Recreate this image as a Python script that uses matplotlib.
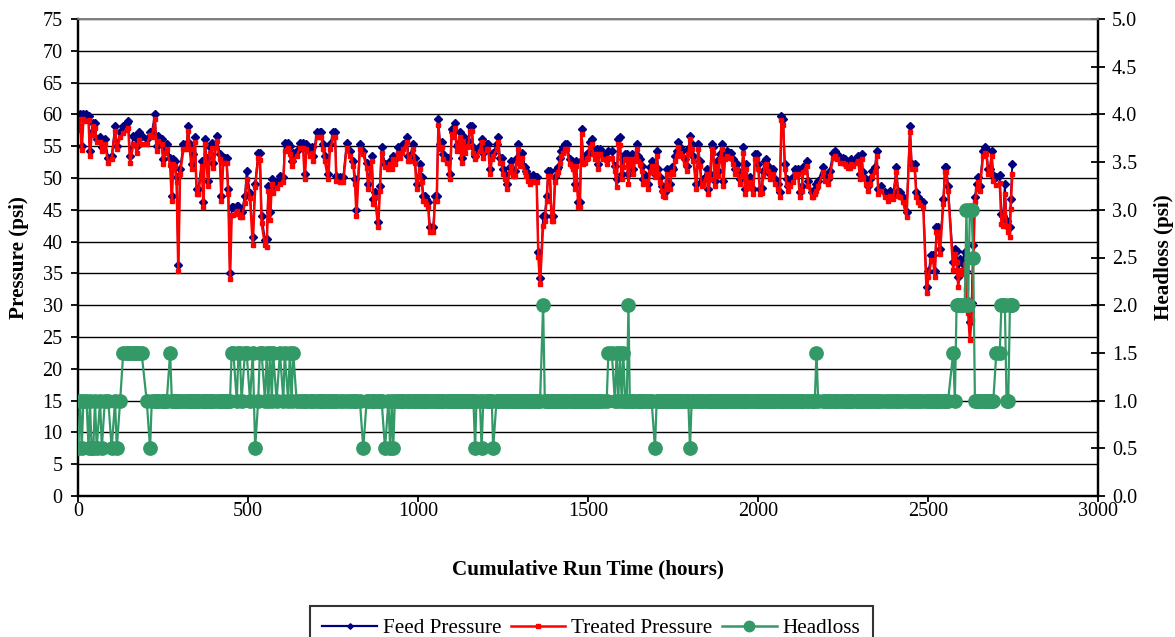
import matplotlib
matplotlib.use("Agg")
import matplotlib.pyplot as plt
from matplotlib.lines import Line2D
from matplotlib.ticker import MultipleLocator, FormatStrFormatter

plt.rcParams['font.family'] = ['Liberation Serif', 'DejaVu Serif']

# Cumulative run time of each reading (hours)
hours = [
    1, 6, 11, 16, 25, 31, 35, 40, 45, 50,
    55, 65, 70, 79, 89, 99, 109, 114, 124, 133,
    143, 148, 153, 163, 168, 173, 178, 187, 202, 212,
    217, 226, 231, 236, 246, 251, 256, 261, 271, 276,
    280, 285, 290, 295, 300, 310, 319, 324, 329, 334,
    339, 344, 349, 354, 364, 369, 373, 378, 383, 388,
    393, 398, 408, 417, 422, 427, 432, 437, 442, 447,
    452, 457, 467, 472, 476, 481, 491, 496, 506, 514,
    521, 530, 535, 540, 550, 555, 560, 565, 570, 574,
    584, 594, 604, 608, 618, 623, 628, 633, 643, 653,
    662, 667, 672, 682, 687, 692, 702, 711, 716, 721,
    726, 736, 741, 751, 756, 760, 770, 780, 790, 800,
    810, 815, 819, 829, 839, 849, 854, 864, 869, 873,
    883, 888, 893, 903, 913, 918, 923, 927, 932, 942,
    947, 952, 957, 967, 972, 976, 986, 991, 996, 1006,
    1011, 1016, 1021, 1025, 1030, 1035, 1045, 1050, 1055, 1060,
    1065, 1070, 1074, 1084, 1089, 1094, 1099, 1104, 1109, 1114,
    1119, 1123, 1128, 1133, 1138, 1143, 1148, 1153, 1158, 1163,
    1168, 1172, 1182, 1187, 1192, 1202, 1207, 1212, 1217, 1221,
    1231, 1236, 1241, 1246, 1251, 1256, 1261, 1270, 1275, 1280,
    1285, 1290, 1295, 1300, 1305, 1315, 1319, 1324, 1329, 1334,
    1339, 1344, 1349, 1354, 1359, 1368, 1373, 1378, 1383, 1388,
    1393, 1398, 1403, 1408, 1413, 1417, 1422, 1427, 1432, 1437,
    1447, 1452, 1457, 1462, 1466, 1471, 1476, 1481, 1486, 1491,
    1496, 1501, 1506, 1511, 1515, 1520, 1525, 1530, 1535, 1545,
    1555, 1560, 1570, 1579, 1584, 1589, 1594, 1599, 1604, 1609,
    1614, 1619, 1623, 1628, 1633, 1643, 1648, 1653, 1658, 1663,
    1668, 1677, 1682, 1687, 1697, 1702, 1707, 1712, 1717, 1721,
    1726, 1731, 1736, 1741, 1746, 1751, 1756, 1761, 1766, 1770,
    1775, 1785, 1790, 1795, 1800, 1805, 1810, 1819, 1824, 1829,
    1834, 1839, 1849, 1854, 1859, 1864, 1868, 1873, 1878, 1883,
    1888, 1893, 1898, 1903, 1908, 1917, 1922, 1927, 1932, 1937,
    1947, 1952, 1957, 1962, 1966, 1971, 1976, 1986, 1991, 1996,
    2001, 2006, 2011, 2015, 2020, 2025, 2030, 2035, 2040, 2045,
    2050, 2060, 2064, 2069, 2074, 2079, 2084, 2089, 2094, 2104,
    2109, 2113, 2118, 2123, 2128, 2133, 2143, 2148, 2158, 2162,
    2167, 2172, 2177, 2192, 2197, 2202, 2207, 2211, 2221, 2226,
    2231, 2241, 2251, 2256, 2260, 2265, 2270, 2275, 2280, 2290,
    2295, 2300, 2305, 2309, 2319, 2324, 2329, 2334, 2344, 2349,
    2354, 2363, 2373, 2383, 2388, 2398, 2407, 2412, 2417, 2427,
    2437, 2447, 2452, 2461, 2466, 2471, 2476, 2486, 2496, 2501,
    2510, 2515, 2520, 2525, 2530, 2535, 2545, 2550, 2554, 2559,
    2574, 2579, 2584, 2589, 2594, 2599, 2608, 2613, 2618, 2623,
    2628, 2633, 2638, 2643, 2647, 2652, 2662, 2667, 2672, 2677,
    2682, 2687, 2692, 2701, 2711, 2716, 2721, 2726, 2731, 2736,
    2741, 2743, 2748,
]

# Feed pressure (psi)
feed_pressure = [
    58.2, 60.0, 55.1, 60.0, 60.0, 59.7, 54.3, 57.2, 58.7, 58.7,
    56.1, 56.4, 54.8, 56.1, 53.2, 53.5, 58.2, 55.1, 57.2, 58.2,
    58.7, 59.0, 53.5, 56.6, 56.4, 55.1, 57.2, 56.6, 56.1, 57.2,
    57.2, 60.0, 55.1, 56.6, 56.1, 53.0, 54.8, 55.3, 53.2, 47.2,
    53.0, 52.7, 50.1, 36.3, 51.4, 55.3, 55.3, 58.2, 55.3, 52.2,
    53.8, 56.4, 48.3, 48.3, 52.7, 46.2, 56.1, 53.2, 49.6, 54.8,
    55.5, 52.4, 56.6, 53.8, 47.2, 53.2, 53.2, 53.2, 48.3, 35.0,
    45.4, 45.4, 45.6, 45.6, 45.1, 44.6, 47.2, 51.1, 47.7, 40.7,
    49.1, 54.0, 54.0, 44.1, 40.2, 40.4, 48.8, 44.6, 49.8, 48.8,
    49.3, 50.3, 50.1, 55.5, 55.5, 55.0, 52.7, 54.0, 54.3, 55.5,
    55.5, 50.6, 55.3, 54.3, 54.8, 53.5, 57.2, 57.2, 57.2, 55.3,
    53.5, 50.6, 55.3, 57.2, 57.2, 50.3, 50.1, 50.1, 55.5, 54.3,
    52.7, 49.8, 44.9, 55.3, 54.3, 52.4, 49.1, 53.5, 46.7, 47.8,
    43.1, 48.8, 54.8, 52.2, 52.2, 52.7, 52.2, 53.5, 53.0, 54.8,
    54.0, 54.8, 55.3, 56.4, 53.5, 53.5, 55.3, 53.2, 49.1, 52.2,
    50.1, 47.2, 47.2, 46.7, 46.2, 42.3, 42.3, 47.2, 47.2, 59.2,
    55.3, 55.6, 53.8, 53.2, 53.2, 50.6, 57.7, 57.2, 58.7, 55.1,
    55.3, 57.2, 53.2, 56.6, 54.8, 55.6, 55.8, 58.2, 58.2, 54.8,
    53.5, 54.3, 55.1, 56.1, 54.0, 55.3, 55.3, 51.4, 53.8, 54.0,
    55.3, 56.4, 53.2, 53.2, 51.4, 50.6, 49.1, 51.7, 52.7, 51.1,
    51.1, 53.2, 55.3, 52.7, 54.0, 51.7, 51.1, 50.4, 49.8, 50.1,
    50.4, 50.1, 50.1, 38.4, 34.2, 44.1, 44.1, 47.2, 51.1, 51.1,
    44.1, 44.1, 50.1, 51.4, 51.7, 53.2, 54.3, 54.8, 55.3, 55.3,
    53.0, 52.7, 52.2, 49.1, 52.7, 46.2, 46.2, 57.7, 53.0, 53.2,
    53.8, 54.0, 55.6, 56.1, 54.5, 53.8, 54.5, 52.2, 54.5, 53.8,
    53.0, 54.3, 54.3, 51.9, 49.8, 56.1, 56.4, 50.6, 53.0, 53.8,
    53.8, 50.6, 53.0, 53.8, 51.4, 55.3, 53.5, 53.0, 51.9, 49.8,
    50.4, 49.1, 51.7, 52.7, 50.6, 54.3, 51.4, 50.1, 48.8, 48.0,
    47.8, 51.4, 49.1, 49.1, 51.7, 51.4, 53.5, 54.3, 55.6, 54.8,
    54.3, 53.0, 51.9, 54.5, 56.6, 55.3, 53.5, 49.1, 55.3, 52.7,
    49.6, 49.8, 51.4, 48.3, 50.6, 55.3, 54.8, 49.6, 52.7, 51.1,
    53.8, 55.3, 49.6, 53.8, 54.3, 54.0, 54.0, 53.0, 51.4, 52.2,
    49.8, 51.1, 54.8, 48.3, 52.2, 49.3, 50.1, 48.3, 53.8, 53.8,
    52.2, 48.3, 48.5, 51.1, 52.7, 53.0, 51.9, 50.6, 51.1, 51.4,
    49.8, 49.1, 47.8, 59.7, 59.2, 52.2, 49.8, 48.8, 49.6, 50.1,
    51.4, 51.1, 51.4, 47.8, 48.8, 51.7, 52.7, 49.6, 47.8, 47.8,
    48.3, 49.1, 49.6, 51.7, 50.4, 50.4, 49.8, 51.1, 54.0, 54.3,
    53.8, 53.2, 53.2, 53.0, 52.7, 52.4, 52.4, 53.0, 52.7, 53.2,
    53.5, 50.6, 53.8, 50.9, 49.8, 48.8, 49.8, 51.1, 51.7, 54.3,
    48.3, 48.8, 47.8, 47.2, 48.0, 47.5, 51.7, 48.0, 47.8, 47.0,
    44.6, 58.2, 52.2, 52.2, 47.8, 47.0, 46.5, 46.2, 32.9, 35.3,
    37.9, 37.9, 35.3, 42.3, 42.3, 38.9, 46.7, 51.7, 51.7, 48.8,
    36.8, 38.9, 38.6, 34.5, 37.3, 36.6, 38.4, 35.3, 30.6, 27.4,
    30.3, 39.4, 47.0, 49.1, 50.1, 48.8, 54.3, 54.8, 54.5, 51.4,
    51.4, 54.3, 50.4, 50.1, 50.4, 44.4, 44.1, 49.1, 43.3, 42.3,
    42.3, 46.7, 52.2,
]

# Treated pressure (psi)
treated_pressure = [
    57.6, 59.3, 54.4, 59.3, 59.0, 59.1, 53.5, 56.7, 58.2, 57.9,
    55.6, 55.6, 54.3, 55.3, 52.4, 53.0, 57.4, 54.6, 56.4, 57.0,
    57.5, 57.8, 52.3, 55.4, 55.2, 53.9, 56.0, 55.4, 55.3, 56.7,
    56.4, 59.2, 54.3, 55.8, 55.3, 52.2, 54.0, 54.5, 52.0, 46.4,
    52.2, 51.9, 49.3, 35.4, 50.6, 54.5, 54.5, 57.4, 54.5, 51.4,
    53.0, 55.6, 47.5, 47.5, 51.9, 45.4, 55.3, 52.4, 48.8, 54.0,
    54.7, 51.6, 55.8, 53.0, 46.4, 52.4, 52.4, 52.4, 47.5, 34.1,
    44.2, 44.2, 44.8, 44.4, 43.9, 43.8, 46.0, 49.9, 46.9, 39.5,
    48.6, 53.2, 52.8, 42.9, 39.4, 39.2, 48.0, 43.4, 49.0, 47.6,
    48.5, 49.1, 49.3, 54.3, 54.7, 53.8, 51.9, 52.8, 53.5, 54.7,
    54.7, 49.8, 54.5, 53.5, 54.0, 52.7, 56.4, 56.4, 56.4, 54.5,
    52.7, 49.8, 54.5, 56.4, 56.4, 49.5, 49.3, 49.3, 54.7, 53.5,
    51.9, 49.0, 44.1, 54.5, 53.8, 51.6, 48.3, 52.7, 45.9, 47.0,
    42.3, 48.0, 54.0, 51.7, 51.4, 52.2, 51.4, 53.0, 52.2, 54.0,
    53.2, 54.0, 54.5, 55.6, 52.7, 52.7, 54.5, 52.4, 48.3, 51.4,
    49.3, 46.4, 46.4, 45.9, 45.4, 41.5, 41.5, 46.4, 46.4, 58.4,
    54.5, 54.8, 53.0, 52.4, 52.4, 49.8, 56.9, 56.4, 57.9, 54.3,
    54.5, 56.4, 52.4, 55.8, 54.0, 54.8, 55.0, 57.4, 57.4, 54.0,
    53.0, 53.5, 54.3, 55.6, 53.2, 54.5, 54.5, 50.6, 53.0, 53.5,
    54.5, 55.6, 52.4, 52.4, 50.6, 49.8, 48.3, 50.9, 51.9, 50.3,
    50.3, 52.4, 54.5, 51.9, 53.2, 50.9, 50.3, 49.6, 49.0, 49.3,
    49.6, 49.3, 49.3, 37.6, 33.4, 42.5, 43.3, 46.4, 50.3, 50.3,
    43.3, 43.3, 49.3, 50.6, 50.9, 52.4, 53.5, 54.0, 54.5, 54.5,
    52.2, 51.9, 51.4, 48.3, 51.9, 45.4, 45.4, 56.9, 52.2, 52.4,
    53.0, 53.2, 54.8, 55.3, 53.7, 53.0, 53.7, 51.4, 53.7, 53.0,
    52.2, 53.1, 53.1, 51.1, 48.6, 55.3, 55.2, 49.8, 51.8, 53.0,
    53.0, 49.0, 52.2, 53.0, 50.6, 54.5, 52.7, 52.2, 51.1, 49.0,
    49.6, 48.3, 50.9, 51.9, 50.1, 53.5, 50.6, 49.3, 48.0, 47.2,
    47.0, 50.6, 48.3, 48.3, 50.9, 50.6, 52.7, 53.5, 54.8, 54.0,
    53.5, 52.2, 51.1, 53.7, 56.1, 54.5, 52.7, 48.3, 54.5, 51.9,
    48.8, 49.0, 50.6, 47.5, 49.8, 54.5, 54.0, 48.8, 51.9, 50.3,
    53.0, 54.5, 48.8, 53.0, 53.5, 53.2, 53.2, 52.2, 50.6, 51.4,
    49.0, 50.3, 54.0, 47.5, 51.4, 48.5, 49.3, 47.5, 53.0, 53.0,
    51.4, 47.5, 47.7, 50.3, 51.9, 52.2, 51.1, 49.8, 50.3, 50.6,
    49.0, 48.3, 47.0, 59.1, 58.4, 51.4, 49.0, 48.0, 48.8, 49.3,
    50.6, 50.3, 50.6, 47.0, 48.0, 50.9, 51.9, 48.8, 47.0, 47.0,
    47.5, 47.9, 48.8, 50.9, 49.6, 49.6, 49.0, 50.3, 53.2, 53.5,
    53.0, 52.4, 52.4, 52.2, 51.9, 51.6, 51.6, 52.2, 51.9, 52.4,
    52.7, 49.8, 53.0, 50.1, 49.0, 48.0, 49.0, 50.3, 50.9, 53.5,
    47.5, 48.0, 47.0, 46.4, 47.2, 46.7, 50.9, 47.2, 47.0, 46.2,
    43.8, 57.2, 51.4, 51.4, 47.0, 46.2, 45.7, 45.4, 31.9, 34.5,
    37.1, 37.1, 34.5, 41.5, 41.5, 38.1, 45.9, 50.9, 50.9, 48.0,
    35.6, 38.1, 36.8, 32.8, 35.5, 34.9, 36.4, 32.6, 28.8, 24.6,
    27.6, 37.1, 46.2, 48.3, 49.3, 48.0, 53.5, 54.0, 53.7, 50.6,
    50.6, 53.5, 49.6, 48.9, 49.2, 42.8, 42.5, 47.5, 42.5, 41.5,
    40.8, 45.1, 50.6,
]

# Headloss across the unit (psi)
headloss = [
    0.5, 1.0, 0.5, 1.0, 1.0, 0.5, 1.0, 0.5, 0.5, 1.0,
    0.5, 1.0, 0.5, 1.0, 1.0, 0.5, 1.0, 0.5, 1.0, 1.5,
    1.5, 1.5, 1.5, 1.5, 1.5, 1.5, 1.5, 1.5, 1.0, 0.5,
    1.0, 1.0, 1.0, 1.0, 1.0, 1.0, 1.0, 1.0, 1.5, 1.0,
    1.0, 1.0, 1.0, 1.0, 1.0, 1.0, 1.0, 1.0, 1.0, 1.0,
    1.0, 1.0, 1.0, 1.0, 1.0, 1.0, 1.0, 1.0, 1.0, 1.0,
    1.0, 1.0, 1.0, 1.0, 1.0, 1.0, 1.0, 1.0, 1.0, 1.0,
    1.5, 1.5, 1.0, 1.5, 1.5, 1.0, 1.5, 1.5, 1.0, 1.5,
    0.5, 1.0, 1.5, 1.5, 1.0, 1.5, 1.0, 1.5, 1.0, 1.5,
    1.0, 1.5, 1.0, 1.5, 1.0, 1.5, 1.0, 1.5, 1.0, 1.0,
    1.0, 1.0, 1.0, 1.0, 1.0, 1.0, 1.0, 1.0, 1.0, 1.0,
    1.0, 1.0, 1.0, 1.0, 1.0, 1.0, 1.0, 1.0, 1.0, 1.0,
    1.0, 1.0, 1.0, 1.0, 0.5, 1.0, 1.0, 1.0, 1.0, 1.0,
    1.0, 1.0, 1.0, 0.5, 1.0, 0.5, 1.0, 0.5, 1.0, 1.0,
    1.0, 1.0, 1.0, 1.0, 1.0, 1.0, 1.0, 1.0, 1.0, 1.0,
    1.0, 1.0, 1.0, 1.0, 1.0, 1.0, 1.0, 1.0, 1.0, 1.0,
    1.0, 1.0, 1.0, 1.0, 1.0, 1.0, 1.0, 1.0, 1.0, 1.0,
    1.0, 1.0, 1.0, 1.0, 1.0, 1.0, 1.0, 1.0, 1.0, 1.0,
    0.5, 1.0, 1.0, 0.5, 1.0, 1.0, 1.0, 1.0, 1.0, 0.5,
    1.0, 1.0, 1.0, 1.0, 1.0, 1.0, 1.0, 1.0, 1.0, 1.0,
    1.0, 1.0, 1.0, 1.0, 1.0, 1.0, 1.0, 1.0, 1.0, 1.0,
    1.0, 1.0, 1.0, 1.0, 1.0, 2.0, 1.0, 1.0, 1.0, 1.0,
    1.0, 1.0, 1.0, 1.0, 1.0, 1.0, 1.0, 1.0, 1.0, 1.0,
    1.0, 1.0, 1.0, 1.0, 1.0, 1.0, 1.0, 1.0, 1.0, 1.0,
    1.0, 1.0, 1.0, 1.0, 1.0, 1.0, 1.0, 1.0, 1.0, 1.0,
    1.0, 1.5, 1.5, 1.0, 1.5, 1.0, 1.5, 1.0, 1.5, 1.0,
    1.0, 2.0, 1.0, 1.0, 1.0, 1.0, 1.0, 1.0, 1.0, 1.0,
    1.0, 1.0, 1.0, 1.0, 0.5, 1.0, 1.0, 1.0, 1.0, 1.0,
    1.0, 1.0, 1.0, 1.0, 1.0, 1.0, 1.0, 1.0, 1.0, 1.0,
    1.0, 1.0, 1.0, 1.0, 0.5, 1.0, 1.0, 1.0, 1.0, 1.0,
    1.0, 1.0, 1.0, 1.0, 1.0, 1.0, 1.0, 1.0, 1.0, 1.0,
    1.0, 1.0, 1.0, 1.0, 1.0, 1.0, 1.0, 1.0, 1.0, 1.0,
    1.0, 1.0, 1.0, 1.0, 1.0, 1.0, 1.0, 1.0, 1.0, 1.0,
    1.0, 1.0, 1.0, 1.0, 1.0, 1.0, 1.0, 1.0, 1.0, 1.0,
    1.0, 1.0, 1.0, 1.0, 1.0, 1.0, 1.0, 1.0, 1.0, 1.0,
    1.0, 1.0, 1.0, 1.0, 1.0, 1.0, 1.0, 1.0, 1.0, 1.0,
    1.0, 1.5, 1.0, 1.0, 1.0, 1.0, 1.0, 1.0, 1.0, 1.0,
    1.0, 1.0, 1.0, 1.0, 1.0, 1.0, 1.0, 1.0, 1.0, 1.0,
    1.0, 1.0, 1.0, 1.0, 1.0, 1.0, 1.0, 1.0, 1.0, 1.0,
    1.0, 1.0, 1.0, 1.0, 1.0, 1.0, 1.0, 1.0, 1.0, 1.0,
    1.0, 1.0, 1.0, 1.0, 1.0, 1.0, 1.0, 1.0, 1.0, 1.0,
    1.0, 1.0, 1.0, 1.0, 1.0, 1.0, 1.0, 1.0, 1.0, 1.0,
    1.5, 1.0, 2.0, 2.0, 2.0, 2.0, 2.0, 3.0, 2.0, 3.0,
    3.0, 2.5, 1.0, 1.0, 1.0, 1.0, 1.0, 1.0, 1.0, 1.0,
    1.0, 1.0, 1.0, 1.5, 1.5, 2.0, 2.0, 2.0, 1.0, 1.0,
    2.0, 2.0, 2.0,
]

assert len(hours) == len(feed_pressure) == len(treated_pressure) == len(headloss)

W, H = 1175, 637
fig = plt.figure(figsize=(W / 100, H / 100), dpi=100)
ax = fig.add_axes([78 / W, 1 - 496 / H, 1020 / W, 477 / H])
ax2 = ax.twinx()

FEED = '#000080'
TREATED = '#FF0000'
HEAD = '#339966'

ax.plot(hours, feed_pressure, color=FEED, lw=1.3, marker='D', ms=3.6,
        mec=FEED, mfc=FEED, zorder=3)
ax.plot(hours, treated_pressure, color=TREATED, lw=1.8, marker='s', ms=3.4,
        mec=TREATED, mfc=TREATED, mew=1.0, zorder=4)
ax2.plot(hours, headloss, color=HEAD, lw=1.6, marker='o', ms=9.6,
         mec=HEAD, mfc=HEAD, zorder=3)

# Primary (pressure) axis
ax.set_xlim(0, 3000)
ax.set_ylim(0, 75)
ax.xaxis.set_major_locator(MultipleLocator(500))
ax.yaxis.set_major_locator(MultipleLocator(5))
ax.yaxis.grid(True, color='black', lw=1.0)
ax.set_axisbelow(True)

# Secondary (headloss) axis
ax2.set_ylim(0, 5)
ax2.yaxis.set_major_locator(MultipleLocator(0.5))
ax2.yaxis.set_major_formatter(FormatStrFormatter('%.1f'))

for a in (ax, ax2):
    for s in a.spines.values():
        s.set_linewidth(1.6)
        s.set_color('black')
    a.spines['top'].set_color('#808080')
    a.spines['top'].set_linewidth(1.2)

tick_font = 14.5
ax.tick_params(axis='y', direction='out', length=5, width=1.3, pad=6,
               labelsize=tick_font, colors='black')
ax.tick_params(axis='x', direction='out', length=4, width=1.3, pad=0,
               labelsize=tick_font, colors='black')
ax2.tick_params(axis='y', direction='inout', length=10, width=1.3, pad=5,
                labelsize=tick_font, colors='black')

label_font = 15.2
ax.set_xlabel('Cumulative Run Time (hours)', fontsize=label_font,
              fontweight='bold', labelpad=28)
ax.set_ylabel('Pressure (psi)', fontsize=label_font, fontweight='bold',
              labelpad=10)
ax2.set_ylabel('Headloss (psi)', fontsize=label_font, fontweight='bold',
               labelpad=12, rotation=90)

handles = [
    Line2D([], [], color=FEED, lw=1.6, marker='D', ms=2.8),
    Line2D([], [], color=TREATED, lw=1.8, marker='s', ms=3.0, mfc=TREATED),
    Line2D([], [], color=HEAD, lw=1.8, marker='o', ms=7.5),
]
labels = ['Feed Pressure', 'Treated Pressure', 'Headloss']
leg = fig.legend(handles, labels, loc='upper center',
                 bbox_to_anchor=(0.5030, 1 - 606 / H), ncol=3,
                 fontsize=15.2, frameon=True, fancybox=False,
                 edgecolor='black', handlelength=2.6, handletextpad=0.26,
                 columnspacing=0.45, borderpad=0.6, borderaxespad=0)
leg.get_frame().set_linewidth(1.5)

fig.savefig('out.png', dpi=100)
